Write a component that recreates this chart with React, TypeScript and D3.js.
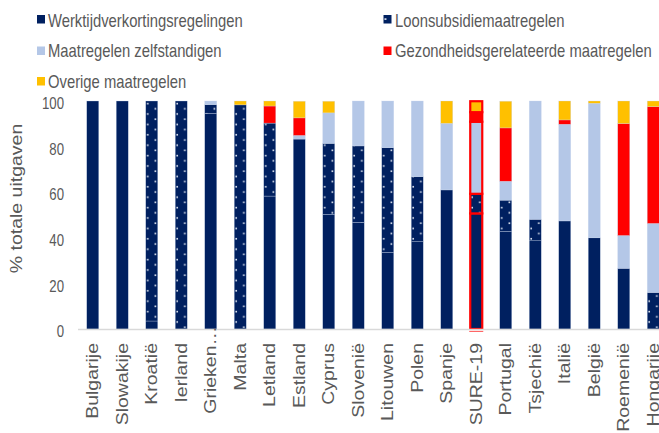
import React from "react";
import * as d3 from "d3";

const categories = ["Bulgarije","Slowakije","Kroatië","Ierland","Grieken…","Malta","Letland","Estland","Cyprus","Slovenië","Litouwen","Polen","Spanje","SURE-19","Portugal","Tsjechië","Italië","België","Roemenië","Hongarije"];
const werktijd = [100,100,3.5,0,94.6,0,58.3,83.3,50.3,46.8,33.6,38.3,61,50.7,42.8,38.7,47.4,40,26.6,0];
const loon = [0,0,96.5,100,3.8,98.3,32,0,31.1,33.5,45.9,28.5,0,8.6,13.7,9.4,0,0,0,16];
const zelf = [0,0,0,0,1.6,0,0,1.6,13.4,19.7,20.5,33.2,29.2,31.6,8.3,51.9,42.4,59,14.4,30.3];
const gez = [0,0,0,0,0,0,7.5,7.7,0,0,0,0,0,4.2,23.4,0,1.9,0,49.1,51.2];
const overige = [0,0,0,0,0,1.7,2.2,7.3,5.1,0,0,0,9.8,4.8,11.7,0,8.3,1,9.9,2.5];
const yTicks = [0,20,40,60,80,100];
const seriesNames = ["Werktijdverkortingsregelingen","Loonsubsidiemaatregelen","Maatregelen zelfstandigen","Gezondheidsgerelateerde maatregelen","Overige maatregelen"];
const highlight = "SURE-19";

const keys = ["wtv","loon","zelf","gez","ov"];
const colors: Record<string,string> = { wtv: "#002060", loon: "#002060", zelf: "#B4C7E7", gez: "#FF0000", ov: "#FFC000" };
const FONT = "'Liberation Sans', Arial, sans-serif";
const TXT = "#595959";
const SX = 0.8;

export default function App() {
  const rows = categories.map((c, i) => ({ cat: c, wtv: werktijd[i], loon: loon[i], zelf: zelf[i], gez: gez[i], ov: overige[i] }));
  const stack = d3.stack<any>().keys(keys)(rows);
  const x = d3.scaleBand<string>().domain(categories).range([78, 668]).paddingInner(0.593).paddingOuter(0.2965);
  const y = d3.scaleLinear().domain([0, 100]).range([329, 101]);
  const bw = x.bandwidth();

  const legend = [
    { k: "wtv", label: seriesNames[0], lx: 37, ly: 15, tx: 48, ty: 26.5 },
    { k: "loon", label: seriesNames[1], lx: 383.5, ly: 15, tx: 395, ty: 27 },
    { k: "zelf", label: seriesNames[2], lx: 37, ly: 46.5, tx: 48, ty: 57.3 },
    { k: "gez", label: seriesNames[3], lx: 383.5, ly: 46.5, tx: 395, ty: 57.3 },
    { k: "ov", label: seriesNames[4], lx: 37, ly: 77, tx: 48, ty: 87.5 },
  ];

  return (
    <svg width={659} height={433} style={{ position: "absolute", left: 0, top: 0, background: "#fff" }} fontFamily={FONT}>
      <defs>
        {categories.map((c, i) => (
          <pattern key={c} id={`dots-${i}`} patternUnits="userSpaceOnUse" x={x(c)!} y={101} width={bw} height={10.4}>
            <rect width={bw} height={10.4} fill="#002060" />
            <rect x={1.2} y={1.8} width={1.6} height={1.6} fill="#E4EAF4" />
            <rect x={8.8} y={7} width={1.6} height={1.6} fill="#E4EAF4" />
          </pattern>
        ))}
        <pattern id="dots-leg" patternUnits="userSpaceOnUse" x={383.5} y={15} width={8} height={8}>
          <rect width={8} height={8} fill="#002060" />
          <rect x={1} y={3.2} width={1.8} height={1.8} fill="#E4EAF4" />
        </pattern>
      </defs>

      {/* legend */}
      {legend.map((l) => (
        <g key={l.k}>
          <rect x={l.lx} y={l.ly} width={8} height={8.5} fill={l.k === "loon" ? "url(#dots-leg)" : colors[l.k]} />
          <text transform={`translate(${l.tx},${l.ty}) scale(${SX},1)`} fontSize={18.5} fill={TXT}>{l.label}</text>
        </g>
      ))}

      {/* y axis labels */}
      {yTicks.map((t) => (
        <text key={t} transform={`translate(64,${y(t) + 2.5}) scale(${SX},1)`} textAnchor="end" dy="0.35em" fontSize={16.5} fill={TXT}>{t}</text>
      ))}
      <text transform={`translate(21.7,198.5) scale(${SX},1) rotate(-90)`} textAnchor="middle" fontSize={19.5} fill={TXT}>% totale uitgaven</text>

      {/* bars */}
      {stack.map((s) => (
        <g key={s.key}>
          {s.map((d, i) => {
            const h = y(d[0]) - y(d[1]);
            if (h <= 0.01) return null;
            const c = categories[i];
            const hl = c === highlight;
            return (
              <rect key={c} x={x(c)!} y={y(d[1])} width={bw} height={h}
                fill={s.key === "loon" ? `url(#dots-${i})` : colors[s.key]}
                stroke={hl ? "#FF0000" : "#C9D5EC"} strokeWidth={hl ? 2.2 : 0.5} strokeOpacity={hl ? 1 : 0.6} />
            );
          })}
        </g>
      ))}

      {/* x axis */}
      <line x1={78} x2={659} y1={329.5} y2={329.5} stroke="#D9D9D9" strokeWidth={1.5} />
      <line x1={x(highlight)! - 1} x2={x(highlight)! + bw + 1} y1={331.5} y2={331.5} stroke="#FF0000" strokeOpacity={0.6} strokeWidth={1} />
      {categories.map((c) => (
        <text key={c} transform={`translate(${x(c)! + bw / 2 + 5.5},${c === "Grieken…" ? 326 : 343}) scale(${SX},1) rotate(-90)`} textAnchor="end" fontSize={19.5} fill={TXT}>{c}</text>
      ))}
    </svg>
  );
}
